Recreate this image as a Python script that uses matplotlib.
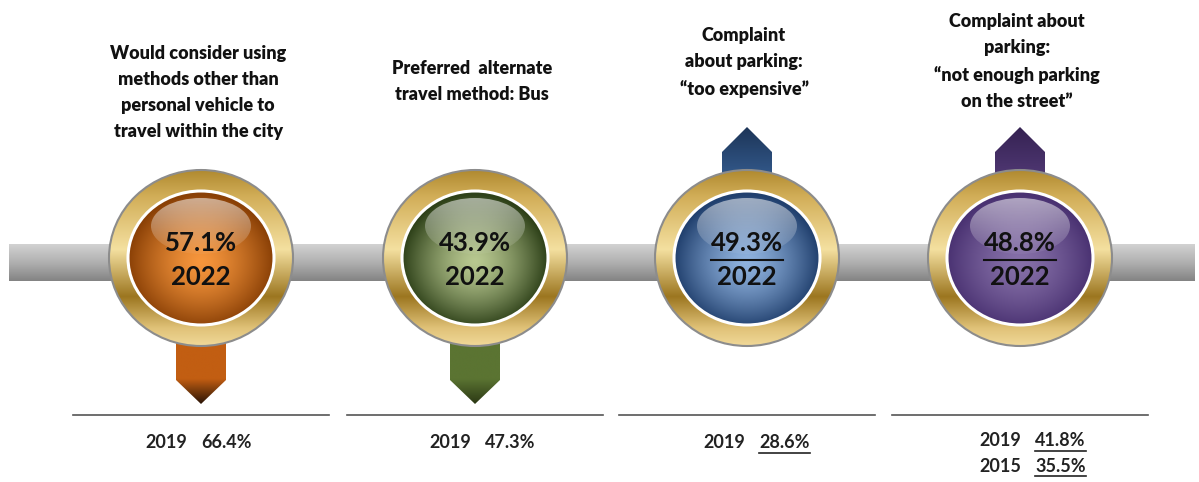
import numpy as np
import matplotlib
matplotlib.use("Agg")
import matplotlib.pyplot as plt
from matplotlib.patches import Ellipse, Polygon, Rectangle
from matplotlib.colors import to_rgb

# ---- data ----
titles = [
    "Would consider using\nmethods other than\npersonal vehicle to\ntravel within the city",
    "Preferred  alternate\ntravel method: Bus",
    "Complaint\nabout parking:\n\u201ctoo expensive\u201d",
    "Complaint about\nparking:\n\u201cnot enough parking\non the street\u201d",
]
pct_2022 = [57.1, 43.9, 49.3, 48.8]
pct_2019 = [66.4, 47.3, 28.6, 41.8]
pct_2015 = [None, None, None, 35.5]
underlined = [False, False, True, True]

# ball colours: (centre, edge)
ball_colors = [("#f7963c", "#8a4006"), ("#b8c890", "#2e4119"),
               ("#8fb2de", "#21406e"), ("#8670a8", "#4a3272")]
arrow_colors = [("#c25e12", "#2a1406"), ("#5b7432", "#2b3814"),
                ("#3d6aa3", "#1d3558"), ("#5c4283", "#352252")]

W, H = 1199, 482
fig = plt.figure(figsize=(W / 100, H / 100), dpi=100)
ax = fig.add_axes([0, 0, 1, 1])
ax.set_xlim(0, W)
ax.set_ylim(H, 0)
ax.axis("off")

centers_x = [201, 475, 747, 1020]
title_top = [45, 60, 27, 13]
cy = 258
title_font = dict(family=["Lato", "DejaVu Sans"], weight="heavy",
                  fontsize=13, color="#111111")
num_font = dict(family=["Lato", "DejaVu Sans"], weight="bold", fontsize=18.5, color="#111111")
low_font = dict(family=["Lato", "DejaVu Sans"], weight="bold", fontsize=13, color="#222222")


def lin_grad(x0, x1, y0, y1, stops, clip, vertical=True, z=1):
    n = 256
    t = np.linspace(0, 1, n)
    pos = [s[0] for s in stops]
    cols = np.array([to_rgb(s[1]) for s in stops])
    rgb = np.stack([np.interp(t, pos, cols[:, k]) for k in range(3)], axis=-1)
    img = rgb[:, None, :] if vertical else rgb[None, :, :]
    im = ax.imshow(img, extent=(x0, x1, y1, y0), aspect="auto", zorder=z,
                   interpolation="bilinear")
    im.set_clip_path(clip)
    return im


def radial_grad(cx, cyy, rx, ry, c_in, c_out, clip, z=1):
    n = 200
    yy, xx = np.mgrid[-1:1:n * 1j, -1:1:n * 1j]
    d = np.clip(np.sqrt(xx ** 2 + (yy - 0.05) ** 2), 0, 1) ** 1.4
    a, b = np.array(to_rgb(c_in)), np.array(to_rgb(c_out))
    img = a * (1 - d[..., None]) + b * d[..., None]
    im = ax.imshow(img, extent=(cx - rx, cx + rx, cyy + ry, cyy - ry), aspect="auto",
                   zorder=z, interpolation="bilinear")
    im.set_clip_path(clip)


# grey bar
bar = Rectangle((9, 244), W - 13, 37, facecolor="none", edgecolor="none")
ax.add_patch(bar)
lin_grad(9, W - 4, 244, 281, [(0, "#d2d2d2"), (0.5, "#b0b0b0"), (1, "#838383")], bar, z=1)

fig.canvas.draw()
renderer = fig.canvas.get_renderer()

for i, cx in enumerate(centers_x):
    up = pct_2022[i] > pct_2019[i]
    # arrow
    hw = 25
    if up:
        pts = [(cx - hw, 200), (cx - hw, 152), (cx, 127), (cx + hw, 152), (cx + hw, 200)]
        y0, y1 = 127, 200
        stops = [(0, arrow_colors[i][1]), (1, arrow_colors[i][0])]
    else:
        pts = [(cx - hw, 320), (cx - hw, 380), (cx, 404), (cx + hw, 380), (cx + hw, 320)]
        y0, y1 = 320, 404
        stops = [(0, arrow_colors[i][0]), (0.7, arrow_colors[i][0]), (1, arrow_colors[i][1])]
    arr = Polygon(pts, closed=True, facecolor="none", edgecolor="none")
    ax.add_patch(arr)
    lin_grad(cx - hw, cx + hw, y0, y1, stops, arr, z=2)

    # gold ring
    ring = Ellipse((cx, cy), 184, 176, facecolor="none", edgecolor="#8c8c8c", lw=1.5, zorder=4)
    ax.add_patch(ring)
    lin_grad(cx - 92, cx + 92, cy - 88, cy + 88,
             [(0, "#b08a30"), (0.15, "#d2ae58"), (0.45, "#f4e0a0"), (0.72, "#9c7620"),
              (0.9, "#e0c278"), (1, "#f0d898")], ring, z=3)

    # ball
    ball = Ellipse((cx, cy), 146, 134, facecolor="none", edgecolor="white", lw=2.2, zorder=6)
    ax.add_patch(ball)
    radial_grad(cx, cy, 73, 67, ball_colors[i][0], ball_colors[i][1], ball, z=5)

    # gloss
    gl = Ellipse((cx, cy - 32), 100, 56, facecolor="none", edgecolor="none")
    ax.add_patch(gl)
    alpha = np.linspace(0.55, 0.05, 100)
    glimg = np.ones((100, 1, 4))
    glimg[:, 0, 3] = alpha
    gim = ax.imshow(glimg, extent=(cx - 50, cx + 50, cy - 4, cy - 60), aspect="auto",
                    zorder=6, interpolation="bilinear")
    gim.set_clip_path(gl)

    # numbers in ball
    t1 = ax.text(cx, cy - 15, f"{pct_2022[i]:.1f}%", ha="center", va="center", zorder=8, **num_font)
    ax.text(cx, cy + 19, "2022", ha="center", va="center", zorder=8, **num_font)
    if underlined[i]:
        bb = t1.get_window_extent(renderer).transformed(ax.transData.inverted())
        ax.plot([bb.x0, bb.x1], [cy + 2, cy + 2], color="#111111", lw=1.5, zorder=8)

    # title
    ax.text(cx - 3, title_top[i], titles[i], ha="center", va="top",
            linespacing=1.65, **title_font)

    # separator line
    ax.plot([cx - 128, cx + 128], [415, 415], color="#555555", lw=1.2, zorder=2)

# lower labels
split_off = [-7, 3, 5, 8]
for i, cx in enumerate(centers_x):
    sx = cx + split_off[i]
    rows = [("2019", pct_2019[i])]
    if pct_2015[i] is not None:
        rows.append(("2015", pct_2015[i]))
    y_start = 443 if len(rows) == 1 else 441
    for j, (yr, v) in enumerate(rows):
        yy = y_start + 25 * j
        ax.text(sx - 7, yy, yr, ha="right", va="center", **low_font)
        tp = ax.text(sx + 7, yy, f"{v:.1f}%", ha="left", va="center", **low_font)
        if underlined[i]:
            bb = tp.get_window_extent(renderer).transformed(ax.transData.inverted())
            ax.plot([bb.x0, bb.x1], [yy + 10, yy + 10], color="#222222", lw=1.2)

fig.savefig("out.png", dpi=100, facecolor="white")
